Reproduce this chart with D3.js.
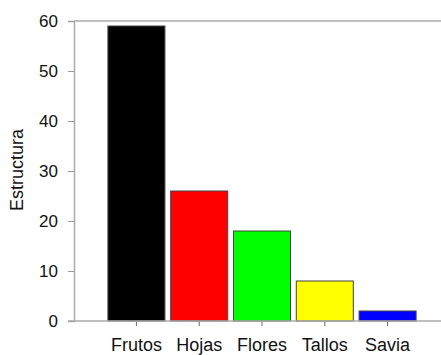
<!DOCTYPE html>
<html>
<head>
<meta charset="utf-8">
<script src="https://cdn.jsdelivr.net/npm/d3@7"></script>
<style>
  body { margin: 0; background: #fff; }
  text { font-family: "Liberation Sans", Arial, sans-serif; fill: #111; }
</style>
</head>
<body>
<div id="chart"></div>
<script>
// data
const categories = ['Frutos', 'Hojas', 'Flores', 'Tallos', 'Savia'];
const values = [59, 26, 18, 8, 2];
const barColors = ['#000000', '#ff0000', '#00ff00', '#ffff00', '#0000ff'];
const yTicks = [0, 10, 20, 30, 40, 50, 60];

const W = 441, H = 355;
const plotLeft = 74, plotTop = 21, plotBottom = 321;

const svg = d3.select('#chart')
  .append('svg')
  .attr('width', W)
  .attr('height', H);

// scales
const x = d3.scaleBand()
  .domain(categories)
  .range([plotLeft, 450])
  .paddingInner(0.092)
  .paddingOuter(0.54);

const y = d3.scaleLinear()
  .domain([0, 60])
  .range([plotBottom, plotTop]);

// top frame line runs to the edge
svg.append('line')
  .attr('x1', plotLeft).attr('x2', W)
  .attr('y1', plotTop).attr('y2', plotTop)
  .attr('stroke', '#aaa').attr('stroke-width', 1.5);

// bars
svg.append('g')
  .selectAll('rect')
  .data(categories)
  .join('rect')
  .attr('x', d => x(d))
  .attr('y', (d, i) => y(values[i]))
  .attr('width', x.bandwidth())
  .attr('height', (d, i) => plotBottom - y(values[i]))
  .attr('fill', (d, i) => barColors[i])
  .attr('stroke', '#444')
  .attr('stroke-width', 1);

// y axis
const yAxis = svg.append('g')
  .attr('transform', `translate(${plotLeft},0)`)
  .call(d3.axisLeft(y).tickValues(yTicks).tickSize(6).tickPadding(10));
yAxis.select('.domain').attr('stroke', '#aaa').attr('stroke-width', 1.5);
yAxis.selectAll('.tick line').attr('stroke', '#999');
yAxis.selectAll('.tick text')
  .style('font-size', '17px')
  .attr('fill', '#111');

// x axis
const xAxis = svg.append('g')
  .attr('transform', `translate(0,${plotBottom})`)
  .call(d3.axisBottom(x).tickSize(5).tickPadding(12));
xAxis.select('.domain').remove();
xAxis.selectAll('.tick line').attr('stroke', '#666');
xAxis.selectAll('.tick text')
  .style('font-size', '18px')
  .attr('fill', '#111');

svg.append('line')
  .attr('x1', plotLeft - 6).attr('x2', W)
  .attr('y1', plotBottom).attr('y2', plotBottom)
  .attr('stroke', '#aaa').attr('stroke-width', 1.5);

// y axis title
svg.append('text')
  .attr('transform', 'translate(23,170) rotate(-90)')
  .attr('text-anchor', 'middle')
  .style('font-size', '18px')
  .text('Estructura');
</script>
</body>
</html>
